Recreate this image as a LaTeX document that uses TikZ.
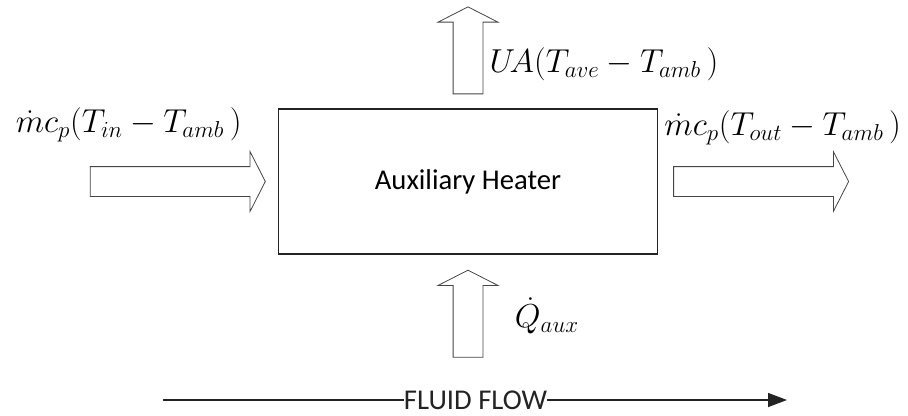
\documentclass[tikz,border=0pt]{standalone}
\usepackage{fontspec}
\setsansfont{Carlito}
\usetikzlibrary{shapes.arrows,arrows.meta,positioning}
\definecolor{heaterLine}{RGB}{35,35,35}
\definecolor{arrowLine}{RGB}{70,70,70}
\tikzset{
  heaterbox/.style={rectangle, draw=heaterLine, line width=1.1pt, minimum width=284.25pt,
    minimum height=108.75pt, align=center, font=\sffamily\fontsize{21.5}{26}\selectfont, inner sep=0pt},
  blockarrow/.style={single arrow, draw=arrowLine, line width=0.6pt, fill=white, inner sep=0pt,
    text height=21.75pt, text depth=0pt, text width=0pt,
    minimum width=44.25pt, single arrow head extend=11.25pt, single arrow tip angle=126},
  sidearrow/.style={blockarrow, minimum height=131.25pt},
  heatarrow/.style={blockarrow, minimum height=65.25pt, rotate=90},
  mathlabel/.style={font=\fontsize{25}{30}\selectfont, inner sep=0pt},
  flowlabel/.style={font=\sffamily\fontsize{21.5}{26}\selectfont, inner sep=0pt, text=heaterLine},
  flowline/.style={draw=heaterLine, line width=1pt, -{Triangle[length=14.25pt,width=10.5pt]}},
}
\begin{document}
\begin{tikzpicture}[x=0.75pt, y=-0.75pt]
  \useasboundingbox (0,0) rectangle (908,415);

  \node[heaterbox] (heater) at (468,181.5) {Auxiliary Heater};

  \node[sidearrow, left=9pt of heater, anchor=tip] (inarrow) {};
  \node[sidearrow, right=11.25pt of heater, anchor=tail] (outarrow) {};
  \node[heatarrow, above=10.5pt of heater, anchor=tail] (lossarrow) {};
  \node[heatarrow, below=11.25pt of heater, anchor=tip] (auxarrow) {};

  \node[mathlabel, anchor=base] (inlabel) at ([xshift=-34pt, yshift=36.75pt]inarrow.center)
    {$\dot{m}c_p(T_{in}-T_{amb}\,)$};
  \node[mathlabel, anchor=base] (outlabel) at ([xshift=19pt, yshift=34.5pt]outarrow.center)
    {$\dot{m}c_p(T_{out}-T_{amb}\,)$};
  \node[mathlabel, anchor=base west] (losslabel) at ([xshift=16.1pt, yshift=-13.5pt]lossarrow.center)
    {$U\!A(T_{ave}-T_{amb}\,)$};
  \node[mathlabel, anchor=base west] (auxlabel) at ([xshift=35pt, yshift=-7.5pt]auxarrow.center)
    {$\dot{Q}_{aux}$};

  % fluid flow direction
  \node[flowlabel] (flowtext) at (475.5,400) {FLUID FLOW};
  \coordinate (flowstart) at (163,400);
  \coordinate (flowend) at (787,400);
  \draw[flowline, -] (flowstart) -- (flowtext.west);
  \draw[flowline] (flowtext.east) -- (flowend);
\end{tikzpicture}
\end{document}
